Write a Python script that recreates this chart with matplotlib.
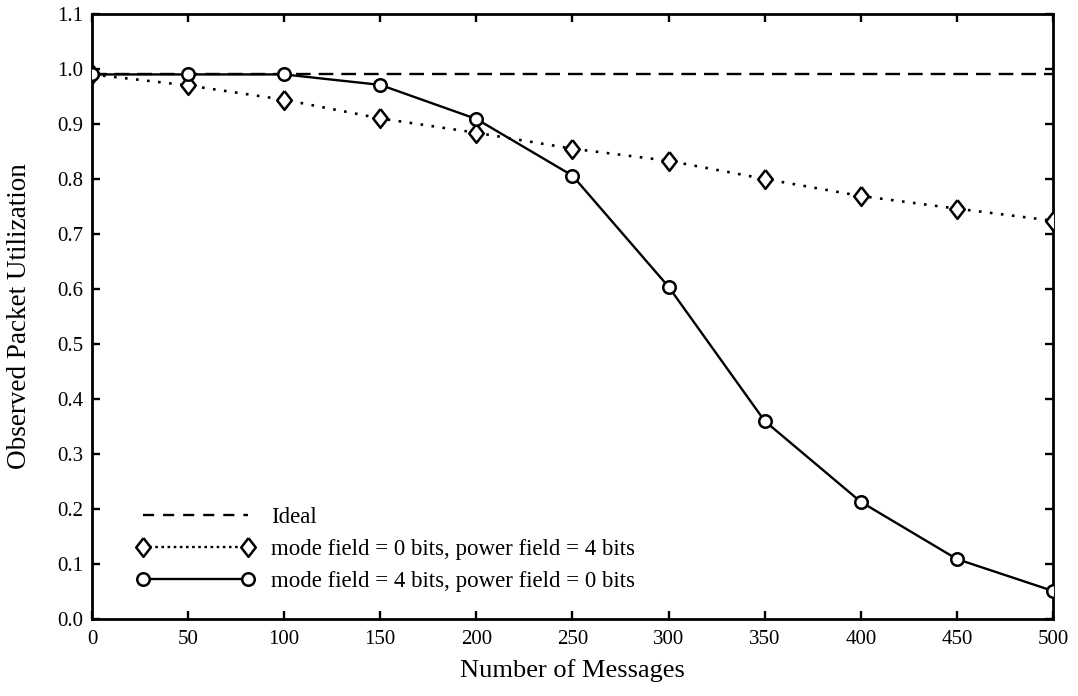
import matplotlib
matplotlib.use("Agg")
import matplotlib.pyplot as plt
from matplotlib.lines import Line2D
from matplotlib.ticker import FormatStrFormatter

plt.rcParams['font.family'] = ['Liberation Serif', 'DejaVu Serif']

messages = [0, 50, 100, 150, 200, 250, 300, 350, 400, 450, 500]
ideal = [0.99] * len(messages)
mode0_power4 = [0.99, 0.970, 0.944, 0.910, 0.884, 0.855, 0.833, 0.800, 0.769, 0.746, 0.724]
mode4_power0 = [0.99, 0.990, 0.990, 0.971, 0.909, 0.806, 0.604, 0.360, 0.213, 0.109, 0.051]

labels = ["Ideal",
          "mode field = 0 bits, power field = 4 bits",
          "mode field = 4 bits, power field = 0 bits"]

x_ticks = list(range(0, 501, 50))
y_ticks = [i / 10 for i in range(0, 12)]

diamond = [(0, 1), (0.78, 0), (0, -1), (-0.78, 0), (0, 1)]

fig = plt.figure(figsize=(10.78, 6.96), dpi=100)
ax = fig.add_axes([0.0853, 0.1106, 0.8915, 0.8694])

lw = 1.7
mew = 1.8
ax.plot(messages, ideal, color='black', lw=lw, dashes=(6.2, 3.4), zorder=2)
ax.plot(messages, mode0_power4, color='black', lw=1.9, dashes=(1, 3.2),
        dash_capstyle='butt', marker=diamond, markersize=13.5,
        markerfacecolor='white', markeredgecolor='black',
        markeredgewidth=mew, zorder=3)
ax.plot(messages, mode4_power0, color='black', lw=lw, linestyle='-',
        marker='o', markersize=9, markerfacecolor='white',
        markeredgecolor='black', markeredgewidth=mew, zorder=4)

ax.set_xlim(0, 500)
ax.set_ylim(0, 1.1)
ax.set_xticks(x_ticks)
ax.set_yticks(y_ticks)
ax.yaxis.set_major_formatter(FormatStrFormatter('%.1f'))
ax.tick_params(direction='in', length=6, width=1.7, top=True, right=True,
               labelsize=15)
ax.tick_params(axis='x', pad=8)
ax.tick_params(axis='y', pad=6.5)
for s in ax.spines.values():
    s.set_linewidth(2.0)

ax.set_xlabel("Number of Messages", fontsize=19, labelpad=7)
ax.set_ylabel("Observed Packet Utilization", fontsize=19.5, labelpad=18)

handles = [
    Line2D([], [], color='black', lw=lw, dashes=(4.7, 3.8)),
    Line2D([], [], color='black', lw=lw, dashes=(1.1, 1.5), marker=diamond,
           markersize=13.5, markerfacecolor='white', markeredgecolor='black',
           markeredgewidth=mew),
    Line2D([], [], color='black', lw=lw, marker='o', markersize=9,
           markerfacecolor='white', markeredgecolor='black', markeredgewidth=mew),
]
ax.legend(handles, labels, loc='lower left', bbox_to_anchor=(0.046, 0.045),
          frameon=False, fontsize=16.5, numpoints=2, handlelength=5.18,
          handletextpad=0.71, labelspacing=0.47, borderpad=0, borderaxespad=0)

fig.savefig("out.png", dpi=100)
